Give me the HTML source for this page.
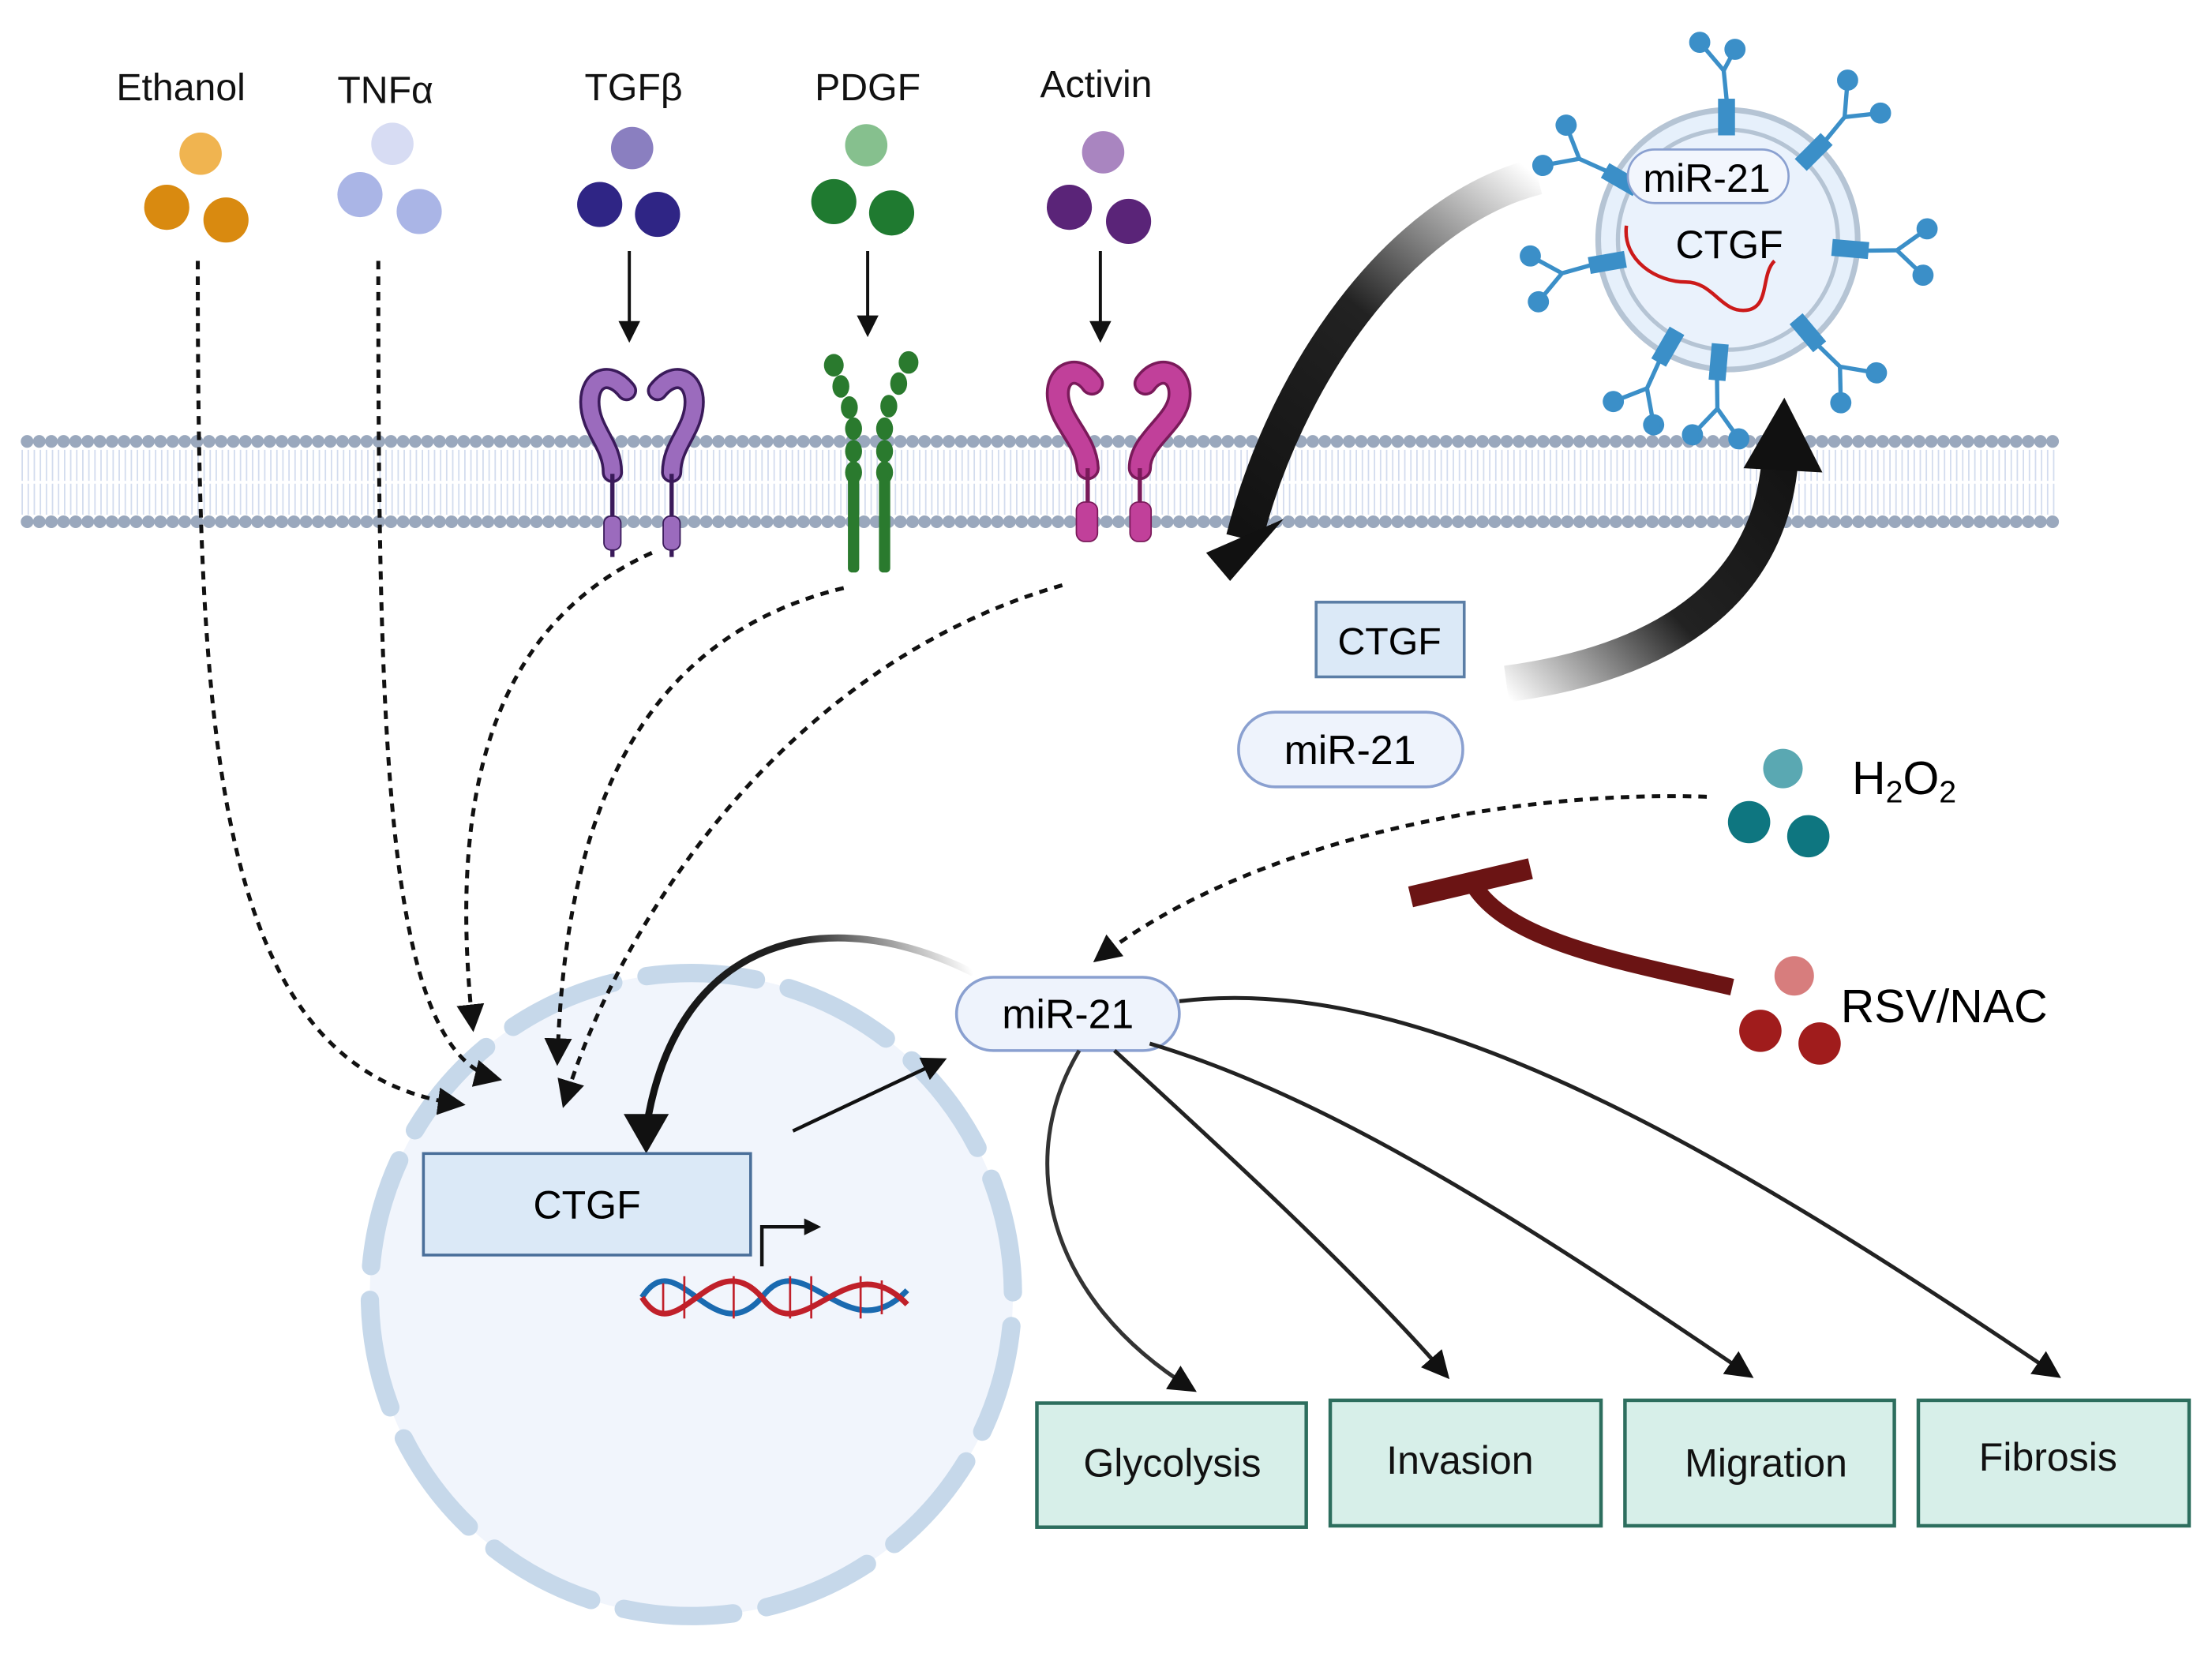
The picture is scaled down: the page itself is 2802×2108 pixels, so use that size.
<!DOCTYPE html>
<html><head><meta charset="utf-8"><style>html,body{margin:0;padding:0;background:#fff}svg{display:block}text{font-family:"Liberation Sans",sans-serif}</style></head><body>
<svg width="2802" height="2108" viewBox="0 0 1568 1180" xmlns="http://www.w3.org/2000/svg">
<defs>
<marker id="ah" viewBox="0 0 10 10" refX="8" refY="5" markerWidth="7" markerHeight="7" orient="auto"><path d="M0,0L10,5L0,10z" fill="#111"/></marker>
<linearGradient id="g1" x1="1090" y1="125" x2="880" y2="390" gradientUnits="userSpaceOnUse"><stop offset="0" stop-color="#fff"/><stop offset=".45" stop-color="#222"/><stop offset="1" stop-color="#111"/></linearGradient>
<linearGradient id="g2" x1="1065" y1="490" x2="1270" y2="300" gradientUnits="userSpaceOnUse"><stop offset="0" stop-color="#fff"/><stop offset=".45" stop-color="#222"/><stop offset="1" stop-color="#111"/></linearGradient>
<linearGradient id="g3" x1="690" y1="690" x2="460" y2="800" gradientUnits="userSpaceOnUse"><stop offset="0" stop-color="#fff"/><stop offset=".4" stop-color="#222"/><stop offset="1" stop-color="#111"/></linearGradient>
</defs>

<!-- membrane -->
<line x1="15" y1="330" x2="1458" y2="330" stroke="#d3dcee" stroke-width="22" stroke-dasharray="1 3.3"/>
<line x1="15" y1="354" x2="1458" y2="354" stroke="#d3dcee" stroke-width="22" stroke-dasharray="1 3.3"/>
<line x1="19" y1="313" x2="1458" y2="313" stroke="#9aa8bd" stroke-width="9" stroke-dasharray="0 8.6" stroke-linecap="round"/>
<line x1="19" y1="370" x2="1458" y2="370" stroke="#9aa8bd" stroke-width="9" stroke-dasharray="0 8.6" stroke-linecap="round"/>

<!-- ligands -->
<g font-size="27" fill="#111" text-anchor="middle">
<text x="128" y="71">Ethanol</text><text x="273" y="73">TNFα</text><text x="449" y="71">TGFβ</text><text x="615" y="71">PDGF</text><text x="777" y="69">Activin</text>
</g>
<g>
<circle cx="142" cy="109" r="15" fill="#f0b450"/><circle cx="118" cy="147" r="16" fill="#d98a10"/><circle cx="160" cy="156" r="16" fill="#d98a10"/>
<circle cx="278" cy="102" r="15" fill="#d7dcf3"/><circle cx="255" cy="138" r="16" fill="#aab5e6"/><circle cx="297" cy="150" r="16" fill="#aab5e6"/>
<circle cx="448" cy="105" r="15" fill="#8a7fc0"/><circle cx="425" cy="145" r="16" fill="#2f2585"/><circle cx="466" cy="152" r="16" fill="#2f2585"/>
<circle cx="614" cy="103" r="15" fill="#86c08e"/><circle cx="591" cy="143" r="16" fill="#1f7a30"/><circle cx="632" cy="151" r="16" fill="#1f7a30"/>
<circle cx="782" cy="108" r="15" fill="#a985c0"/><circle cx="758" cy="147" r="16" fill="#5a2478"/><circle cx="800" cy="157" r="16" fill="#5a2478"/>
</g>
<g stroke="#111" stroke-width="2.2" marker-end="url(#ah)">
<line x1="446" y1="178" x2="446" y2="240"/><line x1="615" y1="178" x2="615" y2="236"/><line x1="780" y1="178" x2="780" y2="240"/>
</g>

<!-- TGFb receptors -->
<g fill="none" stroke-linecap="round">
<path d="M444,277 C432,262 418,268 418,285 C418,305 434,315 434,335" stroke="#3a1a5a" stroke-width="15"/>
<path d="M444,277 C432,262 418,268 418,285 C418,305 434,315 434,335" stroke="#9b6bbd" stroke-width="11"/>
<path d="M466,277 C478,262 492,268 492,285 C492,305 476,315 476,335" stroke="#3a1a5a" stroke-width="15"/>
<path d="M466,277 C478,262 492,268 492,285 C492,305 476,315 476,335" stroke="#9b6bbd" stroke-width="11"/>
</g>
<g stroke="#3a1a5a" stroke-width="3"><line x1="434" y1="336" x2="434" y2="375"/><line x1="476" y1="336" x2="476" y2="375"/><line x1="434" y1="385" x2="434" y2="395"/><line x1="476" y1="385" x2="476" y2="395"/></g>
<rect x="428" y="366" width="12" height="24" rx="5" fill="#9b6bbd" stroke="#3a1a5a"/><rect x="470" y="366" width="12" height="24" rx="5" fill="#9b6bbd" stroke="#3a1a5a"/>

<!-- PDGF receptor -->
<g fill="#2a7a2e">
<ellipse cx="591" cy="259" rx="7" ry="8"/><ellipse cx="596" cy="274" rx="6" ry="8"/><ellipse cx="602" cy="289" rx="6" ry="8"/><ellipse cx="605" cy="304" rx="6" ry="8"/><ellipse cx="605" cy="320" rx="6" ry="8"/><ellipse cx="605" cy="335" rx="6" ry="8"/>
<ellipse cx="644" cy="257" rx="7" ry="8"/><ellipse cx="637" cy="272" rx="6" ry="8"/><ellipse cx="630" cy="288" rx="6" ry="8"/><ellipse cx="627" cy="304" rx="6" ry="8"/><ellipse cx="627" cy="320" rx="6" ry="8"/><ellipse cx="627" cy="335" rx="6" ry="8"/>
<rect x="601" y="338" width="8" height="68" rx="3"/><rect x="623" y="338" width="8" height="68" rx="3"/>
</g>

<!-- Activin receptors -->
<g fill="none" stroke-linecap="round">
<path d="M774,272 C764,258 748,264 750,282 C752,300 770,312 771,332" stroke="#7a1a5a" stroke-width="17"/>
<path d="M774,272 C764,258 748,264 750,282 C752,300 770,312 771,332" stroke="#c1409a" stroke-width="13"/>
<path d="M812,272 C822,258 838,264 836,282 C834,300 808,312 808,332" stroke="#7a1a5a" stroke-width="17"/>
<path d="M812,272 C822,258 838,264 836,282 C834,300 808,312 808,332" stroke="#c1409a" stroke-width="13"/>
</g>
<g stroke="#7a1a5a" stroke-width="3"><line x1="771" y1="332" x2="771" y2="360"/><line x1="808" y1="332" x2="808" y2="360"/></g>
<rect x="763" y="356" width="15" height="28" rx="6" fill="#c1409a" stroke="#7a1a5a"/><rect x="801" y="356" width="15" height="28" rx="6" fill="#c1409a" stroke="#7a1a5a"/>

<!-- nucleus -->
<circle cx="490" cy="918" r="228" fill="#f1f5fc"/>
<circle cx="490" cy="918" r="228" fill="none" stroke="#c6d8ea" stroke-width="13" stroke-dasharray="78 24" stroke-linecap="round" transform="rotate(-20 490 918)"/>

<!-- dashed paths -->
<g fill="none" stroke="#111" stroke-width="2.8" stroke-dasharray="6 5" marker-end="url(#ah)">
<path d="M140,185 C140,520 150,760 326,783"/>
<path d="M268,185 C268,520 272,745 352,765"/>
<path d="M462,392 C345,445 318,570 335,728"/>
<path d="M598,417 C440,455 400,600 395,752"/>
<path d="M753,415 C560,470 440,650 400,782"/>
<path d="M1210,565 C1060,560 880,600 778,680"/>
</g>

<!-- big arrows -->
<path d="M1090,125 C990,150 910,270 882,382" fill="none" stroke="url(#g1)" stroke-width="26"/>
<path d="M855,392 L910,368 L872,412 Z" fill="#111"/>
<path d="M1068,485 C1180,470 1255,420 1262,325" fill="none" stroke="url(#g2)" stroke-width="26"/>
<path d="M1236,332 L1265,282 L1292,335 Z" fill="#111"/>

<rect x="933" y="427" width="105" height="53" fill="#dbe9f7" stroke="#5b7ea6" stroke-width="2"/>
<text x="985" y="464" font-size="27" text-anchor="middle">CTGF</text>
<rect x="878" y="505" width="159" height="53" rx="26" fill="#eef3fc" stroke="#8aa0d0" stroke-width="2"/>
<text x="957" y="542" font-size="29" text-anchor="middle">miR-21</text>

<!-- vesicle -->
<circle cx="1225" cy="170" r="92" fill="#e6f0fb" stroke="#b5c4d4" stroke-width="4"/>
<circle cx="1225" cy="170" r="78" fill="#eaf2fc" stroke="#b5c4d4" stroke-width="3"/>
<g stroke="#3b8fc8" stroke-width="3" fill="#3b8fc8">
<g transform="rotate(0 1225 170)"><line x1="1225" y1="80" x2="1222" y2="50"/><line x1="1222" y1="50" x2="1205" y2="30"/><line x1="1222" y1="50" x2="1230" y2="35"/><circle cx="1205" cy="30" r="6"/><circle cx="1230" cy="35" r="6"/><rect x="1218" y="70" width="12" height="26" stroke="none"/></g>
<g transform="rotate(-60 1225 170)"><line x1="1225" y1="80" x2="1222" y2="50"/><line x1="1222" y1="50" x2="1205" y2="30"/><line x1="1222" y1="50" x2="1238" y2="30"/><circle cx="1205" cy="30" r="6"/><circle cx="1238" cy="30" r="6"/><rect x="1218" y="70" width="12" height="26" stroke="none"/></g>
<g transform="rotate(45 1225 170)"><line x1="1225" y1="80" x2="1222" y2="50"/><line x1="1222" y1="50" x2="1205" y2="30"/><line x1="1222" y1="50" x2="1238" y2="30"/><circle cx="1205" cy="30" r="6"/><circle cx="1238" cy="30" r="6"/><rect x="1218" y="70" width="12" height="26" stroke="none"/></g>
<g transform="rotate(95 1225 170)"><line x1="1225" y1="80" x2="1222" y2="50"/><line x1="1222" y1="50" x2="1205" y2="30"/><line x1="1222" y1="50" x2="1238" y2="30"/><circle cx="1205" cy="30" r="6"/><circle cx="1238" cy="30" r="6"/><rect x="1218" y="70" width="12" height="26" stroke="none"/></g>
<g transform="rotate(140 1225 170)"><line x1="1225" y1="80" x2="1222" y2="50"/><line x1="1222" y1="50" x2="1205" y2="30"/><line x1="1222" y1="50" x2="1238" y2="30"/><circle cx="1205" cy="30" r="6"/><circle cx="1238" cy="30" r="6"/><rect x="1218" y="70" width="12" height="26" stroke="none"/></g>
<g transform="rotate(185 1225 170)"><line x1="1225" y1="80" x2="1222" y2="50"/><line x1="1222" y1="50" x2="1205" y2="30"/><line x1="1222" y1="50" x2="1238" y2="30"/><circle cx="1205" cy="30" r="6"/><circle cx="1238" cy="30" r="6"/><rect x="1218" y="70" width="12" height="26" stroke="none"/></g>
<g transform="rotate(-150 1225 170)"><line x1="1225" y1="80" x2="1222" y2="50"/><line x1="1222" y1="50" x2="1205" y2="30"/><line x1="1222" y1="50" x2="1238" y2="30"/><circle cx="1205" cy="30" r="6"/><circle cx="1238" cy="30" r="6"/><rect x="1218" y="70" width="12" height="26" stroke="none"/></g>
<g transform="rotate(-100 1225 170)"><line x1="1225" y1="80" x2="1222" y2="50"/><line x1="1222" y1="50" x2="1205" y2="30"/><line x1="1222" y1="50" x2="1238" y2="30"/><circle cx="1205" cy="30" r="6"/><circle cx="1238" cy="30" r="6"/><rect x="1218" y="70" width="12" height="26" stroke="none"/></g>
</g>
<rect x="1154" y="106" width="114" height="38" rx="19" fill="#f2f6fd" stroke="#8aa0d0" stroke-width="1.5"/>
<text x="1210" y="136" font-size="28" text-anchor="middle">miR-21</text>
<path d="M1153,160 C1150,185 1175,200 1195,200 C1215,200 1220,222 1238,220 C1255,218 1248,195 1258,185" fill="none" stroke="#cc1a1a" stroke-width="2.5"/>
<text x="1226" y="183" font-size="28" text-anchor="middle">CTGF</text>

<!-- H2O2 / RSV -->
<circle cx="1264" cy="545" r="14" fill="#5aa8b2"/><circle cx="1240" cy="583" r="15" fill="#0e7680"/><circle cx="1282" cy="593" r="15" fill="#0e7680"/>
<text x="1313" y="563" font-size="33">H<tspan font-size="22" dy="6">2</tspan><tspan dy="-6">O</tspan><tspan font-size="22" dy="6">2</tspan></text>
<circle cx="1272" cy="692" r="14" fill="#d77d7d"/><circle cx="1248" cy="731" r="15" fill="#a01c1c"/><circle cx="1290" cy="740" r="15" fill="#a01c1c"/>
<text x="1305" y="725" font-size="33">RSV/NAC</text>
<path d="M1228,700 C1150,682 1070,668 1045,628" fill="none" stroke="#6b1414" stroke-width="12"/>
<line x1="1000" y1="636" x2="1085" y2="616" stroke="#6b1414" stroke-width="15"/>

<!-- nucleus content -->
<path d="M690,690 C590,640 480,660 458,800" fill="none" stroke="url(#g3)" stroke-width="5"/>
<path d="M442,790 L458,818 L474,790 Z" fill="#111"/>
<line x1="562" y1="802" x2="668" y2="752" stroke="#111" stroke-width="2.5" marker-end="url(#ah)"/>
<rect x="678" y="693" width="158" height="52" rx="26" fill="#eef3fc" stroke="#8aa0d0" stroke-width="2"/>
<text x="757" y="729" font-size="29" text-anchor="middle">miR-21</text>

<rect x="300" y="818" width="232" height="72" fill="#dbe9f7" stroke="#4a6f9a" stroke-width="2"/>
<text x="416" y="864" font-size="28" text-anchor="middle">CTGF</text>
<path d="M540,898 V870 H572" fill="none" stroke="#111" stroke-width="2.5"/><path d="M570,864 L582,870 L570,876Z" fill="#111"/>
<path d="M455,920 C480,880 505,960 540,920 C570,880 600,960 643,915" fill="none" stroke="#1a6ab0" stroke-width="4"/>
<path d="M455,920 C480,960 505,880 540,920 C570,960 600,880 643,925" fill="none" stroke="#c0202a" stroke-width="4"/>
<g stroke="#c0202a" stroke-width="1.5"><line x1="470" y1="910" x2="470" y2="932"/><line x1="485" y1="905" x2="485" y2="935"/><line x1="520" y1="905" x2="520" y2="935"/><line x1="560" y1="905" x2="560" y2="935"/><line x1="575" y1="905" x2="575" y2="935"/><line x1="610" y1="905" x2="610" y2="935"/><line x1="625" y1="908" x2="625" y2="932"/></g>

<!-- output arrows -->
<g fill="none" stroke-width="2.8" marker-end="url(#ah)">
<path d="M765,745 C720,820 740,920 845,985" stroke="#333"/>
<path d="M790,745 C850,800 960,900 1025,975" stroke="#222"/>
<path d="M815,740 C950,780 1100,880 1240,975" stroke="#222"/>
<path d="M836,710 C1000,690 1200,800 1458,975" stroke="#222"/>
</g>

<g fill="#d7efe9" stroke="#2d6e5e" stroke-width="2.5">
<rect x="735" y="995" width="191" height="88"/><rect x="943" y="993" width="192" height="89"/><rect x="1152" y="993" width="191" height="89"/><rect x="1360" y="993" width="192" height="89"/>
</g>
<g font-size="28" text-anchor="middle" fill="#111">
<text x="831" y="1047">Glycolysis</text><text x="1035" y="1045">Invasion</text><text x="1252" y="1047">Migration</text><text x="1452" y="1043">Fibrosis</text>
</g>
</svg>
</body></html>
